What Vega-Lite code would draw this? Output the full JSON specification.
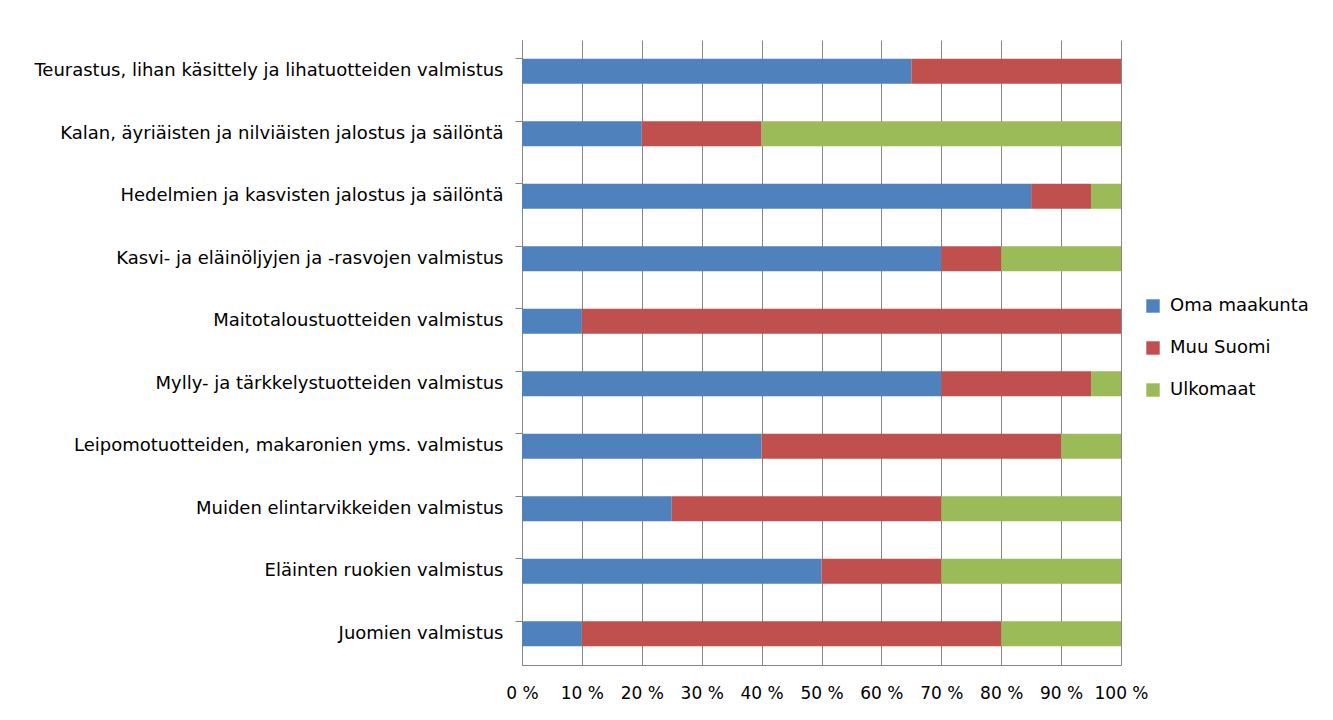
{
  "$schema": "https://vega.github.io/schema/vega-lite/v6.json",
  "width": 599,
  "height": 625,
  "autosize": {"type": "none"},
  "padding": {"left": 522, "top": 40, "right": 212, "bottom": 55},
  "background": "white",
  "config": {
    "font": "DejaVu Sans",
    "view": {"stroke": null}
  },
  "data": {
    "values": [
      {"toimiala": "Teurastus, lihan käsittely ja lihatuotteiden valmistus", "alue": "Oma maakunta", "j": 1, "osuus": 65},
      {"toimiala": "Teurastus, lihan käsittely ja lihatuotteiden valmistus", "alue": "Muu Suomi", "j": 2, "osuus": 35},
      {"toimiala": "Teurastus, lihan käsittely ja lihatuotteiden valmistus", "alue": "Ulkomaat", "j": 3, "osuus": 0},
      {"toimiala": "Kalan, äyriäisten ja nilviäisten jalostus ja säilöntä", "alue": "Oma maakunta", "j": 1, "osuus": 20},
      {"toimiala": "Kalan, äyriäisten ja nilviäisten jalostus ja säilöntä", "alue": "Muu Suomi", "j": 2, "osuus": 20},
      {"toimiala": "Kalan, äyriäisten ja nilviäisten jalostus ja säilöntä", "alue": "Ulkomaat", "j": 3, "osuus": 60},
      {"toimiala": "Hedelmien ja kasvisten jalostus ja säilöntä", "alue": "Oma maakunta", "j": 1, "osuus": 85},
      {"toimiala": "Hedelmien ja kasvisten jalostus ja säilöntä", "alue": "Muu Suomi", "j": 2, "osuus": 10},
      {"toimiala": "Hedelmien ja kasvisten jalostus ja säilöntä", "alue": "Ulkomaat", "j": 3, "osuus": 5},
      {"toimiala": "Kasvi- ja eläinöljyjen ja -rasvojen valmistus", "alue": "Oma maakunta", "j": 1, "osuus": 70},
      {"toimiala": "Kasvi- ja eläinöljyjen ja -rasvojen valmistus", "alue": "Muu Suomi", "j": 2, "osuus": 10},
      {"toimiala": "Kasvi- ja eläinöljyjen ja -rasvojen valmistus", "alue": "Ulkomaat", "j": 3, "osuus": 20},
      {"toimiala": "Maitotaloustuotteiden valmistus", "alue": "Oma maakunta", "j": 1, "osuus": 10},
      {"toimiala": "Maitotaloustuotteiden valmistus", "alue": "Muu Suomi", "j": 2, "osuus": 90},
      {"toimiala": "Maitotaloustuotteiden valmistus", "alue": "Ulkomaat", "j": 3, "osuus": 0},
      {"toimiala": "Mylly- ja tärkkelystuotteiden valmistus", "alue": "Oma maakunta", "j": 1, "osuus": 70},
      {"toimiala": "Mylly- ja tärkkelystuotteiden valmistus", "alue": "Muu Suomi", "j": 2, "osuus": 25},
      {"toimiala": "Mylly- ja tärkkelystuotteiden valmistus", "alue": "Ulkomaat", "j": 3, "osuus": 5},
      {"toimiala": "Leipomotuotteiden, makaronien yms. valmistus", "alue": "Oma maakunta", "j": 1, "osuus": 40},
      {"toimiala": "Leipomotuotteiden, makaronien yms. valmistus", "alue": "Muu Suomi", "j": 2, "osuus": 50},
      {"toimiala": "Leipomotuotteiden, makaronien yms. valmistus", "alue": "Ulkomaat", "j": 3, "osuus": 10},
      {"toimiala": "Muiden elintarvikkeiden valmistus", "alue": "Oma maakunta", "j": 1, "osuus": 25},
      {"toimiala": "Muiden elintarvikkeiden valmistus", "alue": "Muu Suomi", "j": 2, "osuus": 45},
      {"toimiala": "Muiden elintarvikkeiden valmistus", "alue": "Ulkomaat", "j": 3, "osuus": 30},
      {"toimiala": "Eläinten ruokien valmistus", "alue": "Oma maakunta", "j": 1, "osuus": 50},
      {"toimiala": "Eläinten ruokien valmistus", "alue": "Muu Suomi", "j": 2, "osuus": 20},
      {"toimiala": "Eläinten ruokien valmistus", "alue": "Ulkomaat", "j": 3, "osuus": 30},
      {"toimiala": "Juomien valmistus", "alue": "Oma maakunta", "j": 1, "osuus": 10},
      {"toimiala": "Juomien valmistus", "alue": "Muu Suomi", "j": 2, "osuus": 70},
      {"toimiala": "Juomien valmistus", "alue": "Ulkomaat", "j": 3, "osuus": 20}
    ]
  },
  "mark": {"type": "bar"},
  "encoding": {
    "y": {
      "field": "toimiala",
      "type": "nominal",
      "sort": [
        "Teurastus, lihan käsittely ja lihatuotteiden valmistus",
        "Kalan, äyriäisten ja nilviäisten jalostus ja säilöntä",
        "Hedelmien ja kasvisten jalostus ja säilöntä",
        "Kasvi- ja eläinöljyjen ja -rasvojen valmistus",
        "Maitotaloustuotteiden valmistus",
        "Mylly- ja tärkkelystuotteiden valmistus",
        "Leipomotuotteiden, makaronien yms. valmistus",
        "Muiden elintarvikkeiden valmistus",
        "Eläinten ruokien valmistus",
        "Juomien valmistus"
      ],
      "scale": {"paddingInner": 0.6, "paddingOuter": 0.3},
      "axis": {
        "title": null,
        "labelFontSize": 18,
        "labelColor": "#000000",
        "labelLimit": 520,
        "domainColor": "#868686",
        "tickColor": "#868686",
        "tickSize": 7,
        "bandPosition": 0,
        "labelPadding": 12,
        "grid": false
      }
    },
    "x": {
      "field": "osuus",
      "type": "quantitative",
      "stack": "zero",
      "scale": {"domain": [0, 100], "nice": false},
      "axis": {
        "title": null,
        "values": [0, 10, 20, 30, 40, 50, 60, 70, 80, 90, 100],
        "labelExpr": "datum.value + ' %'",
        "labelFontSize": 17,
        "labelColor": "#000000",
        "labelFlush": false,
        "ticks": false,
        "labelPadding": 20,
        "grid": true,
        "gridColor": "#868686",
        "domainColor": "#868686"
      }
    },
    "color": {
      "field": "alue",
      "type": "nominal",
      "scale": {
        "domain": ["Oma maakunta", "Muu Suomi", "Ulkomaat"],
        "range": ["#4F81BD", "#C0504D", "#9BBB59"]
      },
      "legend": {
        "title": null,
        "orient": "none",
        "legendX": 622,
        "legendY": 257,
        "symbolType": "square",
        "symbolSize": 180,
        "symbolStrokeWidth": 0,
        "symbolOpacity": 1,
        "labelFontSize": 18,
        "labelColor": "#000000",
        "labelOffset": 8,
        "rowPadding": 24
      }
    },
    "order": {"field": "j"}
  }
}
